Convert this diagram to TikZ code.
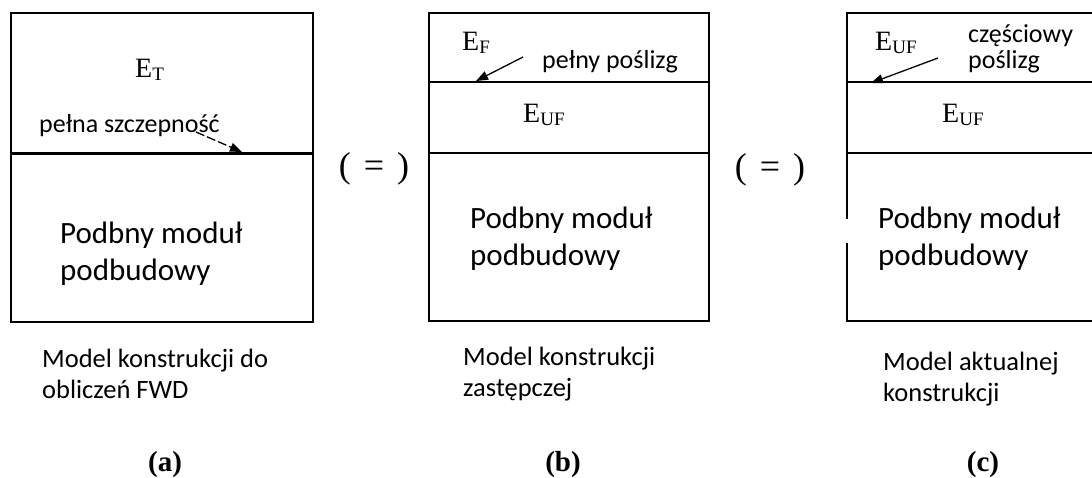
\documentclass[tikz,border=0pt]{standalone}
\usepackage{fontspec}
\setmainfont{Liberation Serif}
\newfontfamily\calfont{Carlito}
\usetikzlibrary{arrows.meta}
\newcommand\Esub[1]{{\fontsize{28}{28}\selectfont E}{\fontsize{19}{19}\selectfont\raisebox{-3pt}{#1}}}
\tikzset{
  boxline/.style={line width=1.4pt, black},
  thickline/.style={line width=3pt, black},
  ptr/.style={line width=1.3pt, -{Triangle[length=12pt,width=9pt]}},
  small/.style={font=\calfont\fontsize{26}{26}\selectfont, anchor=base west, inner sep=0pt},
  big/.style={font=\calfont\fontsize{31}{31}\selectfont, anchor=base west, inner sep=0pt},
  capt/.style={font=\calfont\fontsize{26.5}{26.5}\selectfont, anchor=base west, inner sep=0pt},
  elab/.style={anchor=base west, inner sep=0pt},
  eq/.style={font=\fontsize{36}{36}\selectfont, inner sep=0pt},
  tag/.style={font=\bfseries\fontsize{29}{29}\selectfont, inner sep=0pt}
}
\begin{document}
\begin{tikzpicture}[x=1pt,y=-1pt]
\useasboundingbox (0,0) rectangle (1092,477);
% ---------- (a)
\draw[boxline] (11,13) rectangle (313,322);
\draw[thickline] (11,153) -- (313,153);
\node[elab] (ET) at (135,77) {\Esub{T}};
\node[small] (pa) at (39,132) {pełna szczepność};
\coordinate (pa1) at (196,132);
\coordinate (pa2) at (242,152);
\draw[ptr, dash pattern=on 9pt off 3pt] (pa1) -- (pa2);
\node[big] (a1) at (60,243) {Podbny moduł};
\node[big] (a2) at (60,280) {podbudowy};
\node[capt] (ca1) at (42,367) {Model konstrukcji do};
\node[capt] (ca2) at (42,398) {obliczeń FWD};
\node[tag] (ta) at (165,465) {(a)};
% ---------- (b)
\node[eq] (eq1) at (374,169) {(\hspace{13pt}=\hspace{13pt})};
\draw[boxline] (429,13) rectangle (709,321);
\draw[boxline] (429,82) -- (709,82);
\draw[boxline] (429,153) -- (709,153);
\node[elab] (EF) at (462,50) {\Esub{F}};
\node[small] (pb) at (542,68) {pełny poślizg};
\coordinate (pb1) at (523,57);
\coordinate (pb2) at (476,81);
\draw[ptr] (pb1) -- (pb2);
\node[elab] (EUFb) at (523,122) {\Esub{UF}};
\node[big] (b1) at (470,228) {Podbny moduł};
\node[big] (b2) at (470,265) {podbudowy};
\node[capt] (cb1) at (463,365) {Model konstrukcji};
\node[capt] (cb2) at (463,396) {zastępczej};
\node[tag] (tb) at (563,465) {(b)};
% ---------- (c)
\node[eq] (eq2) at (770,170) {(\hspace{13pt}=\hspace{13pt})};
\draw[boxline] (1092,13) -- (847,13) -- (847,219);
\draw[boxline] (847,243) -- (847,321) -- (1092,321);
\draw[boxline] (847,82) -- (1092,82);
\draw[boxline] (847,153) -- (1092,153);
\node[elab] (EUFc1) at (875,50) {\Esub{UF}};
\node[small] (pc1) at (968,42) {częściowy};
\node[small] (pc2) at (968,68) {poślizg};
\coordinate (pc3) at (938,58);
\coordinate (pc4) at (871,83);
\draw[ptr] (pc3) -- (pc4);
\node[elab] (EUFc2) at (942,122) {\Esub{UF}};
\node[big] (c1) at (878,228) {Podbny moduł};
\node[big] (c2) at (878,265) {podbudowy};
\node[capt] (cc1) at (883,370) {Model aktualnej};
\node[capt] (cc2) at (883,401) {konstrukcji};
\node[tag] (tc) at (983,465) {(c)};
\end{tikzpicture}
\end{document}
